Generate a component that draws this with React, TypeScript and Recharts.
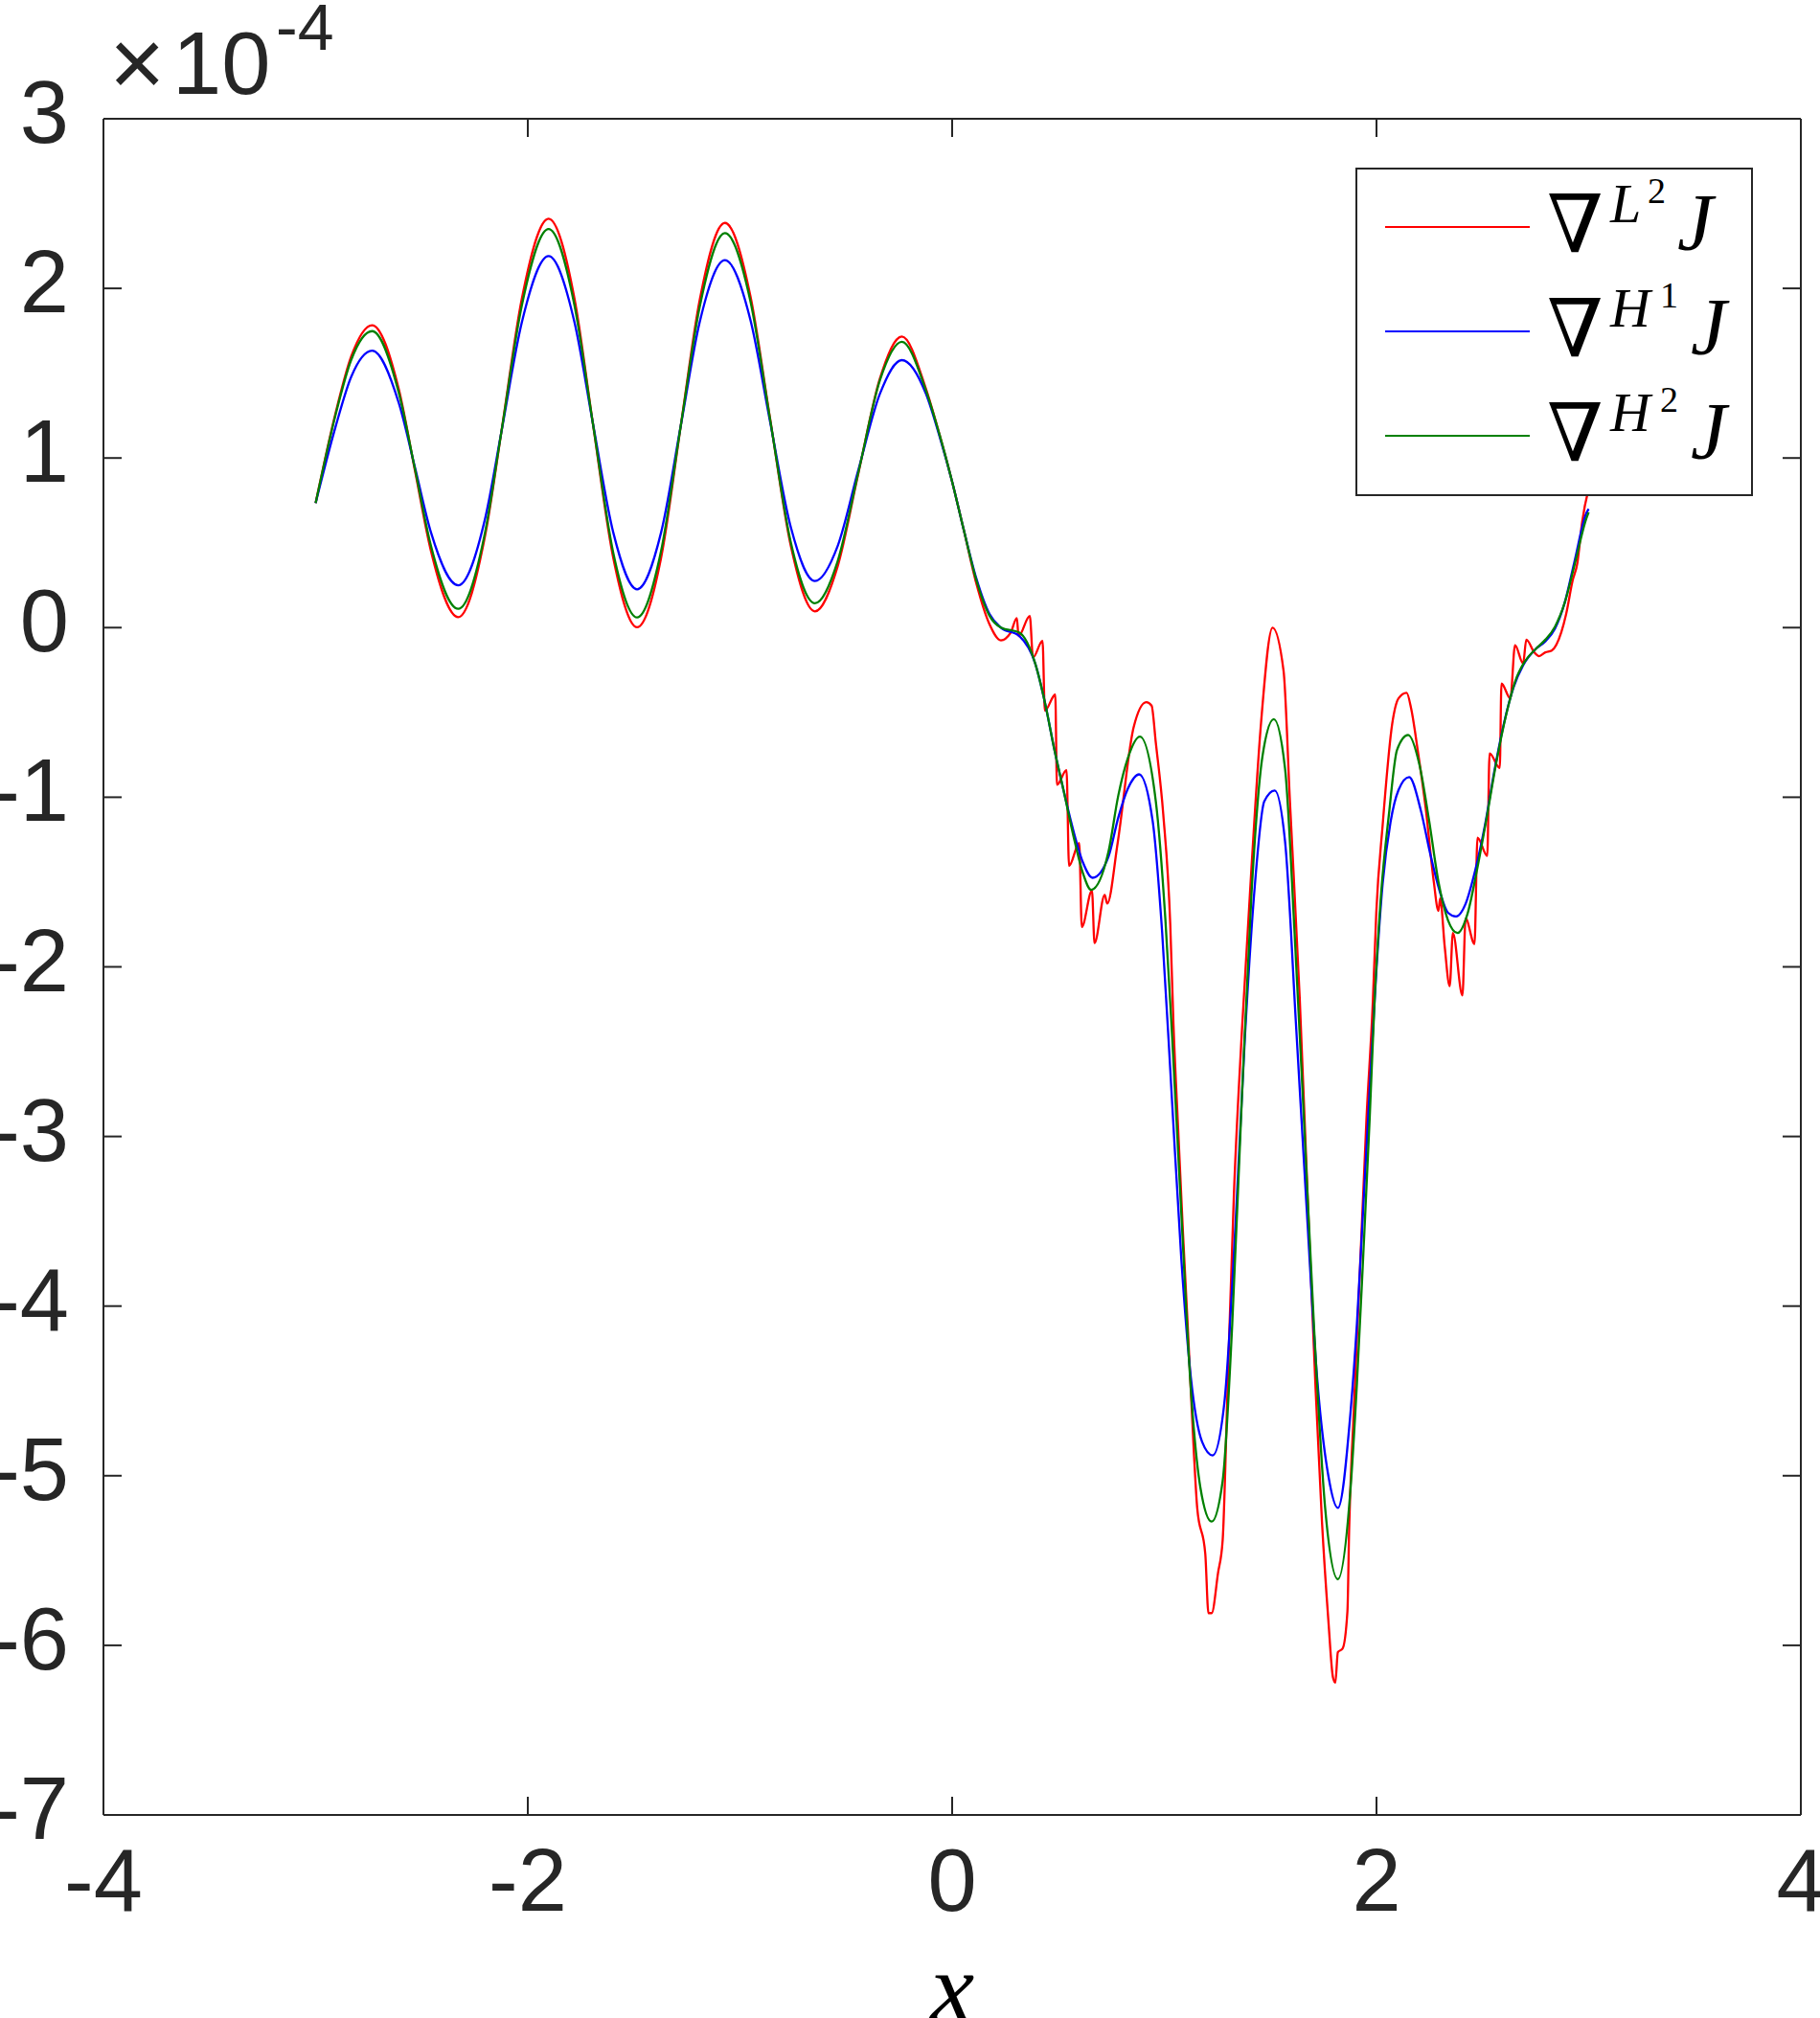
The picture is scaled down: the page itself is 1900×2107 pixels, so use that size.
import React from "react";
import { LineChart, Line, XAxis, YAxis, Legend } from "recharts";

// plot box in page pixels (MATLAB style axes)
const PLOT_LEFT = 108;
const PLOT_TOP = 124;
const PLOT_RIGHT = 1880;
const PLOT_BOTTOM = 1895;
const W = 1900;
const H = 2107;

const xTicks = [-4, -2, 0, 2, 4];
const yTicks = [-7, -6, -5, -4, -3, -2, -1, 0, 1, 2, 3];

// gradients, values in units of 1e-4: [x, value]
const gradL2: [number, number][] = [
  [-3, 0.734], [-2.907, 1.26], [-2.832, 1.6], [-2.734, 1.783], [-2.607, 1.4],
  [-2.531, 0.92], [-2.456, 0.45], [-2.328, 0.062], [-2.2, 0.55], [-2.125, 1.15],
  [-2.028, 1.94], [-1.902, 2.411], [-1.78, 1.94], [-1.694, 1.21], [-1.597, 0.41],
  [-1.485, 0.002], [-1.372, 0.41], [-1.279, 1.19], [-1.19, 1.93], [-1.071, 2.386],
  [-0.95, 1.95], [-0.859, 1.24], [-0.76, 0.48], [-0.647, 0.096], [-0.54, 0.36],
  [-0.442, 0.91], [-0.34, 1.47], [-0.237, 1.716], [-0.124, 1.41], [-0.06, 1.14],
  [0, 0.86], [0.054, 0.58], [0.114, 0.26], [0.176, 0.02], [0.23, -0.075],
  [0.275, -0.032], [0.305, 0.056], [0.313, -0.05], [0.366, 0.069], [0.381, -0.176],
  [0.426, -0.078], [0.437, -0.49], [0.486, -0.395], [0.494, -0.927], [0.539, -0.84],
  [0.551, -1.405], [0.599, -1.27], [0.611, -1.765], [0.659, -1.55], [0.671, -1.86],
  [0.719, -1.576], [0.731, -1.627], [0.78, -1.27], [0.855, -0.59], [0.915, -0.44],
  [0.94, -0.46], [0.96, -0.68], [0.995, -1.1], [1.028, -1.75], [1.043, -2.336],
  [1.065, -2.95], [1.088, -3.57], [1.11, -4.11], [1.14, -4.88], [1.155, -5.19],
  [1.193, -5.46], [1.208, -5.81], [1.223, -5.81], [1.253, -5.575], [1.275, -5.38],
  [1.298, -4.49], [1.328, -3.34], [1.366, -2.37], [1.411, -1.41], [1.456, -0.56],
  [1.51, 0.0], [1.562, -0.254], [1.592, -1.025], [1.638, -2.18], [1.675, -3.34],
  [1.713, -4.49], [1.743, -5.27], [1.773, -5.85], [1.795, -6.19], [1.806, -6.22],
  [1.818, -6.04], [1.84, -6.02], [1.863, -5.8], [1.871, -5.32], [1.893, -4.62],
  [1.923, -3.76], [1.953, -2.89], [1.983, -2.2], [1.999, -1.68], [2.029, -1.165],
  [2.074, -0.568], [2.104, -0.417], [2.142, -0.384], [2.164, -0.481], [2.194, -0.72],
  [2.232, -1.065], [2.27, -1.498], [2.292, -1.67], [2.3, -1.595], [2.322, -1.887],
  [2.345, -2.114], [2.36, -1.8], [2.405, -2.168], [2.42, -1.714], [2.462, -1.865],
  [2.476, -1.238], [2.522, -1.346], [2.533, -0.741], [2.581, -0.827], [2.589, -0.33],
  [2.631, -0.417], [2.653, -0.103], [2.691, -0.211], [2.706, -0.071], [2.744, -0.146],
  [2.766, -0.168], [2.796, -0.146], [2.826, -0.135], [2.871, -0.027], [2.894, 0.081],
  [2.924, 0.275], [2.947, 0.383], [2.969, 0.621], [3, 0.82],
];

const gradH1: [number, number][] = [
  [-3, 0.734], [-2.907, 1.18], [-2.832, 1.48], [-2.734, 1.633], [-2.607, 1.32],
  [-2.531, 0.94], [-2.456, 0.56], [-2.328, 0.25], [-2.2, 0.65], [-2.125, 1.15],
  [-2.028, 1.8], [-1.902, 2.19], [-1.78, 1.8], [-1.694, 1.21], [-1.597, 0.56],
  [-1.485, 0.226], [-1.372, 0.56], [-1.279, 1.19], [-1.19, 1.8], [-1.071, 2.166],
  [-0.95, 1.81], [-0.859, 1.22], [-0.76, 0.59], [-0.647, 0.275], [-0.54, 0.48],
  [-0.442, 0.93], [-0.34, 1.38], [-0.237, 1.577], [-0.124, 1.38], [-0.06, 1.13],
  [0, 0.86], [0.054, 0.58], [0.114, 0.29], [0.176, 0.08], [0.23, 0.0],
  [0.317, -0.05], [0.392, -0.214], [0.437, -0.44], [0.482, -0.72], [0.527, -0.97],
  [0.572, -1.2], [0.617, -1.386], [0.662, -1.475], [0.737, -1.35], [0.783, -1.12],
  [0.828, -0.95], [0.881, -0.865], [0.945, -1.14], [0.99, -1.8], [1.035, -2.76],
  [1.08, -3.72], [1.125, -4.42], [1.178, -4.8], [1.228, -4.88], [1.283, -4.57],
  [1.335, -3.53], [1.38, -2.41], [1.426, -1.53], [1.471, -1.025], [1.52, -0.96],
  [1.569, -1.26], [1.622, -2.37], [1.667, -3.34], [1.72, -4.42], [1.773, -5.0],
  [1.818, -5.19], [1.878, -4.62], [1.908, -4.1], [1.938, -3.41], [1.968, -2.72],
  [1.999, -2.03], [2.029, -1.51], [2.066, -1.148], [2.104, -0.957], [2.154, -0.881],
  [2.209, -1.078], [2.254, -1.338], [2.3, -1.563], [2.337, -1.681], [2.375, -1.703],
  [2.42, -1.628], [2.465, -1.433], [2.51, -1.173], [2.555, -0.849], [2.6, -0.568],
  [2.646, -0.352], [2.691, -0.222], [2.751, -0.125], [2.796, -0.081], [2.841, -0.006],
  [2.887, 0.146], [2.932, 0.383], [2.989, 0.675], [3, 0.7],
];

const gradH2: [number, number][] = [
  [-3, 0.734], [-2.907, 1.25], [-2.832, 1.58], [-2.734, 1.748], [-2.607, 1.38],
  [-2.531, 0.93], [-2.456, 0.48], [-2.328, 0.111], [-2.2, 0.57], [-2.125, 1.15],
  [-2.028, 1.9], [-1.902, 2.35], [-1.78, 1.9], [-1.694, 1.21], [-1.597, 0.44],
  [-1.485, 0.06], [-1.372, 0.45], [-1.279, 1.19], [-1.19, 1.89], [-1.071, 2.326],
  [-0.95, 1.92], [-0.859, 1.235], [-0.76, 0.5], [-0.647, 0.144], [-0.54, 0.39],
  [-0.442, 0.915], [-0.34, 1.46], [-0.237, 1.685], [-0.124, 1.4], [-0.06, 1.14],
  [0, 0.86], [0.054, 0.58], [0.114, 0.28], [0.176, 0.07], [0.23, 0.0],
  [0.317, -0.03], [0.392, -0.214], [0.437, -0.44], [0.482, -0.72], [0.527, -0.97],
  [0.572, -1.23], [0.617, -1.45], [0.655, -1.546], [0.737, -1.32], [0.783, -0.99],
  [0.828, -0.77], [0.885, -0.643], [0.96, -1.025], [1.005, -1.72], [1.035, -2.37],
  [1.08, -3.45], [1.125, -4.49], [1.17, -5.07], [1.223, -5.27], [1.275, -5.03],
  [1.32, -4.11], [1.366, -2.76], [1.411, -1.565], [1.463, -0.755], [1.516, -0.54],
  [1.569, -0.83], [1.614, -1.8], [1.66, -2.95], [1.705, -4.11], [1.758, -5.19],
  [1.818, -5.61], [1.878, -5.07], [1.908, -4.45], [1.938, -3.69], [1.968, -2.89],
  [1.991, -2.2], [2.021, -1.58], [2.059, -1.096], [2.097, -0.72], [2.149, -0.633],
  [2.202, -0.806], [2.247, -1.13], [2.292, -1.498], [2.337, -1.725], [2.382, -1.8],
  [2.428, -1.692], [2.473, -1.433], [2.518, -1.13], [2.563, -0.806], [2.609, -0.525],
  [2.653, -0.319], [2.699, -0.2], [2.751, -0.125], [2.796, -0.071], [2.841, 0.005],
  [2.887, 0.146], [2.932, 0.362], [2.989, 0.643], [3, 0.68],
];

const seriesNames = ["L2", "H1", "H2"];
const seriesColors = ["#ff0000", "#0000ff", "#008000"];
const legendLetters = ["L", "H", "H"];
const legendDigits = ["2", "1", "2"];

const toPoints = (arr: [number, number][]) => arr.map(([x, y]) => ({ x, y }));
const seriesData = [gradL2, gradH1, gradH2].map(toPoints);

const AXIS_COLOR = "#262626";
const TICK_FONT = "'Liberation Sans', Arial, Helvetica, sans-serif";
const MATH_FONT = "'Liberation Serif', 'DejaVu Serif', serif";

const XTick = (props: any) => {
  const { x, y, payload } = props;
  return (
    <text x={x} y={y + 100} textAnchor="middle" fontSize={92} fill={AXIS_COLOR} fontFamily={TICK_FONT}>
      {payload.value}
    </text>
  );
};

const YTick = (props: any) => {
  const { x, y, payload } = props;
  return (
    <text x={x - 36} y={y + 25} textAnchor="end" fontSize={92} fill={AXIS_COLOR} fontFamily={TICK_FONT}>
      {payload.value}
    </text>
  );
};

const LegendBox = () => (
  <div
    style={{
      width: 415,
      height: 343,
      border: `2px solid ${AXIS_COLOR}`,
      background: "#fff",
      boxSizing: "border-box",
    }}
  >
    <svg width={411} height={339} style={{ display: "block" }}>
      {seriesNames.map((name, i) => {
        const base = 84 + i * 109;
        const isL = legendLetters[i] === "L";
        return (
          <g key={name}>
            <line x1={29} x2={180} y1={base - 24} y2={base - 24} stroke={seriesColors[i]} strokeWidth={2.2} />
            <text x={198} y={base + 2} fontSize={84} fontFamily={MATH_FONT} fill="#000">
              {"\u2207"}
            </text>
            <text x={264} y={base - 29} fontSize={58} fontStyle="italic" fontFamily={MATH_FONT} fill="#000">
              {legendLetters[i]}
            </text>
            <text x={isL ? 303 : 316} y={base - 49} fontSize={38} fontFamily={MATH_FONT} fill="#000">
              {legendDigits[i]}
            </text>
            <text x={isL ? 334 : 348} y={base} fontSize={84} fontStyle="italic" fontFamily={MATH_FONT} fill="#000">
              J
            </text>
          </g>
        );
      })}
    </svg>
  </div>
);

export default function App() {
  return (
    <div style={{ position: "absolute", left: 0, top: 0, width: W, height: H, background: "#fff", overflow: "hidden" }}>
      <LineChart
        width={W}
        height={H}
        margin={{ top: PLOT_TOP - 10, right: W - PLOT_RIGHT - 10, bottom: H - PLOT_BOTTOM - 60, left: PLOT_LEFT - 60 }}
      >
        <XAxis
          xAxisId="bottom"
          dataKey="x"
          type="number"
          domain={[-4, 4]}
          ticks={xTicks}
          interval={0}
          allowDataOverflow
          height={60}
          tickSize={-19}
          tickMargin={19}
          tick={XTick}
          axisLine={{ stroke: AXIS_COLOR, strokeWidth: 2 }}
          tickLine={{ stroke: AXIS_COLOR, strokeWidth: 2 }}
        />
        <XAxis
          xAxisId="top"
          orientation="top"
          dataKey="x"
          type="number"
          domain={[-4, 4]}
          ticks={xTicks}
          interval={0}
          allowDataOverflow
          height={10}
          tickSize={-19}
          tickFormatter={() => ""}
          axisLine={{ stroke: AXIS_COLOR, strokeWidth: 2 }}
          tickLine={{ stroke: AXIS_COLOR, strokeWidth: 2 }}
        />
        <YAxis
          yAxisId="left"
          type="number"
          domain={[-7, 3]}
          ticks={yTicks}
          interval={0}
          allowDataOverflow
          width={60}
          tickSize={-19}
          tickMargin={19}
          tick={YTick}
          axisLine={{ stroke: AXIS_COLOR, strokeWidth: 2 }}
          tickLine={{ stroke: AXIS_COLOR, strokeWidth: 2 }}
        />
        <YAxis
          yAxisId="right"
          orientation="right"
          type="number"
          domain={[-7, 3]}
          ticks={yTicks}
          interval={0}
          allowDataOverflow
          width={10}
          tickSize={-19}
          tickFormatter={() => ""}
          axisLine={{ stroke: AXIS_COLOR, strokeWidth: 2 }}
          tickLine={{ stroke: AXIS_COLOR, strokeWidth: 2 }}
        />
        {seriesNames.map((name, i) => (
          <Line
            key={name}
            xAxisId="bottom"
            yAxisId="left"
            data={seriesData[i]}
            dataKey="y"
            name={name}
            type="monotone"
            stroke={seriesColors[i]}
            strokeWidth={2.3}
            dot={false}
            activeDot={false}
            isAnimationActive={false}
          />
        ))}
        <Legend
          layout="horizontal"
          verticalAlign="middle"
          align="center"
          content={LegendBox}
          wrapperStyle={{ left: 1415, top: 175, width: 415, height: 343 }}
        />
      </LineChart>
      <svg
        width={W}
        height={H}
        style={{ position: "absolute", left: 0, top: 0, pointerEvents: "none" }}
      >
        <text x={114} y={100} fontSize={100} fill={AXIS_COLOR} fontFamily={TICK_FONT}>
          {"\u00d7"}
        </text>
        <text x={180} y={98} fontSize={92} fill={AXIS_COLOR} fontFamily={TICK_FONT}>
          10
        </text>
        <text x={288} y={52} fontSize={68} fill={AXIS_COLOR} fontFamily={TICK_FONT}>
          -4
        </text>
        <text
          x={(PLOT_LEFT + PLOT_RIGHT) / 2}
          y={2110}
          textAnchor="middle"
          fontSize={104}
          fontStyle="italic"
          fill="#000"
          fontFamily={MATH_FONT}
        >
          x
        </text>
      </svg>
    </div>
  );
}
